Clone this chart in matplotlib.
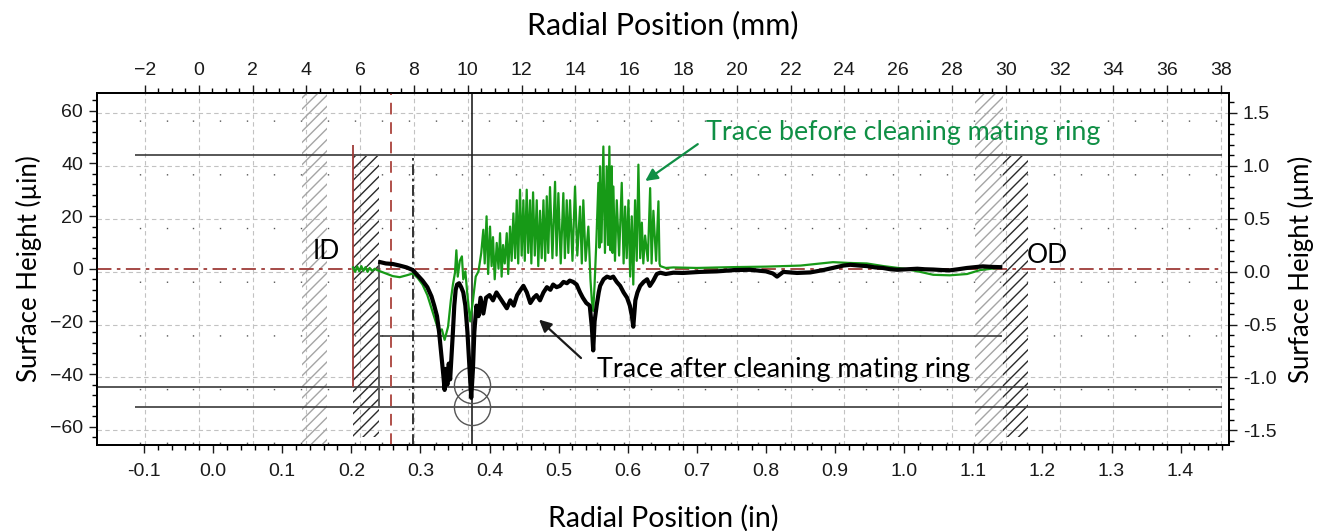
import numpy as np
import matplotlib.pyplot as plt
from matplotlib.ticker import FixedLocator, FormatStrFormatter

# surface traces (x in inches, height in micro-inches)
black_x = [0.242, 0.250, 0.260, 0.270, 0.280, 0.289, 0.296, 0.303, 0.310, 0.316,
           0.320, 0.324, 0.327, 0.330, 0.333, 0.335, 0.337, 0.339, 0.341, 0.343,
           0.345, 0.347, 0.349, 0.351, 0.353, 0.356, 0.359, 0.362, 0.365, 0.368,
           0.371, 0.3735, 0.376, 0.378, 0.381, 0.384, 0.387, 0.391, 0.395, 0.400,
           0.405, 0.410, 0.415, 0.420, 0.425, 0.430, 0.435, 0.440, 0.445, 0.449,
           0.454, 0.459, 0.464, 0.468, 0.473, 0.478, 0.483, 0.488, 0.492, 0.497,
           0.502, 0.507, 0.512, 0.516, 0.521, 0.526, 0.531, 0.535, 0.540, 0.545,
           0.548, 0.550, 0.552, 0.555, 0.558, 0.560, 0.565, 0.570, 0.575, 0.579,
           0.584, 0.589, 0.594, 0.599, 0.603, 0.606, 0.608, 0.611, 0.614, 0.618,
           0.623, 0.628, 0.632, 0.637, 0.642, 0.647, 0.655, 0.666, 0.680, 0.705,
           0.729, 0.755, 0.777, 0.800, 0.810, 0.816, 0.825, 0.845, 0.864, 0.883,
           0.900, 0.912, 0.922, 0.935, 0.946, 0.958, 0.969, 0.980, 0.990, 1.005,
           1.019, 1.030, 1.042, 1.055, 1.066, 1.078, 1.091, 1.103, 1.114, 1.126,
           1.139]
black_y = [2.5, 2.0, 1.8, 1.2, 0.5, -0.5, -2.5, -4.5, -7.0, -10.5,
           -14.0, -18.0, -24.0, -32.0, -40.0, -46.0, -38.0, -44.0, -36.0, -42.0,
           -33.0, -24.0, -14.0, -8.0, -6.0, -5.5, -7.0, -9.0, -14.0, -24.0,
           -38.0, -49.0, -38.0, -24.0, -14.0, -18.0, -11.0, -17.0, -11.0, -10.0,
           -12.0, -9.0, -11.0, -13.0, -15.0, -12.0, -14.0, -10.0, -8.0, -6.5,
           -9.0, -13.0, -11.0, -10.0, -12.0, -9.0, -7.0, -8.0, -6.0, -7.0,
           -6.5, -5.0, -5.5, -4.5, -5.0, -6.0, -9.0, -11.0, -13.0, -14.0,
           -22.0, -31.0, -20.0, -14.0, -9.0, -6.5, -4.0, -3.0, -3.5, -3.0,
           -5.0, -6.5, -9.0, -11.0, -14.0, -18.0, -22.0, -12.0, -9.0, -6.5,
           -5.0, -4.0, -6.5, -4.5, -2.0, -1.5, -2.0, -1.5, -1.6, -1.2,
           -1.0, -0.5, -0.4, -1.0, -1.8, -3.0, -1.2, -1.6, -1.4, -0.5,
           0.5, 1.2, 1.5, 1.2, 1.0, 0.5, 0.3, -0.2, -0.4, -0.2,
           0.0, -0.2, -0.3, -0.5, -0.6, -0.2, 0.3, 0.6, 0.9, 0.7,
           0.6]

green_x = [0.2025, 0.2055, 0.2085, 0.2115, 0.2145, 0.2175, 0.2205, 0.2235, 0.2265, 0.230,
           0.234, 0.238, 0.242, 0.250, 0.260, 0.270, 0.280, 0.289, 0.296, 0.303,
           0.310, 0.316, 0.322, 0.327, 0.331, 0.335, 0.340, 0.344, 0.347, 0.350,
           0.352, 0.354, 0.357, 0.360, 0.362, 0.365, 0.368, 0.372, 0.376, 0.380,
           0.384, 0.388, 0.391, 0.393, 0.3957, 0.398, 0.4007, 0.403, 0.405, 0.4075,
           0.4104, 0.413, 0.4152, 0.4175, 0.4196, 0.422, 0.4249, 0.427, 0.4297, 0.432,
           0.4345, 0.437, 0.4394, 0.4415, 0.4441, 0.4465, 0.449, 0.451, 0.4538, 0.456,
           0.4586, 0.4605, 0.463, 0.4655, 0.4683, 0.4705, 0.4731, 0.4755, 0.478, 0.4805,
           0.4828, 0.485, 0.4875, 0.491, 0.4948, 0.497, 0.4996, 0.503, 0.5068, 0.509,
           0.5117, 0.514, 0.5165, 0.520, 0.5237, 0.527, 0.531, 0.5335, 0.5357, 0.539,
           0.543, 0.546, 0.548, 0.550, 0.552, 0.5545, 0.5575, 0.559, 0.5599, 0.562,
           0.5647, 0.567, 0.5696, 0.5715, 0.5734, 0.575, 0.5769, 0.578, 0.5792, 0.5815,
           0.5841, 0.5875, 0.5913, 0.594, 0.5962, 0.5985, 0.601, 0.6035, 0.6058, 0.608,
           0.6106, 0.613, 0.6154, 0.618, 0.6204, 0.6225, 0.6251, 0.629, 0.6324, 0.6345,
           0.6371, 0.641, 0.6444, 0.646, 0.647, 0.655, 0.666, 0.700, 0.750, 0.800,
           0.850, 0.897, 0.920, 0.946, 0.970, 1.000, 1.020, 1.042, 1.066, 1.091,
           1.110, 1.139]
green_y = [0.5, -1.2, 0.9, -1.0, 1.0, -0.8, 0.6, -1.2, 0.3, -0.8,
           0.0, -0.6, -1.0, -1.8, -2.8, -3.2, -2.5, -1.8, -3.5, -6.0,
           -10.0, -15.0, -20.0, -24.0, -23.0, -27.0, -22.0, -12.0, -6.0, -1.5,
           7.0, -3.0, 3.0, 4.7, -4.0, -1.0, -10.0, -20.0, -12.0, -3.0,
           -1.0, 6.0, 14.8, 2.0, 19.9, -2.0, 16.0, 1.0, 12.0, -4.0,
           9.8, 0.0, 13.5, -3.0, 9.0, 2.0, 13.5, -2.0, 16.0, 3.0,
           21.0, 4.0, 26.0, 2.0, 30.0, 5.0, 26.0, 3.0, 30.0, 6.0,
           26.0, 2.0, 29.0, 5.0, 26.0, 1.0, 22.0, 4.0, 26.0, 3.0,
           27.5, 6.0, 31.0, 4.0, 33.0, 5.0, 28.7, 2.0, 28.7, 4.0,
           26.0, 6.0, 26.0, 3.0, 31.2, 5.0, 23.6, 2.0, 26.0, 3.0,
           16.0, -4.0, -12.0, -16.0, -6.0, 10.0, 32.6, 8.0, 38.9, 10.0,
           46.4, 6.0, 38.9, 9.0, 46.4, 7.0, 38.9, 6.0, 31.2, 3.0,
           26.0, 5.0, 32.6, 2.0, 23.6, 4.0, 26.0, -3.0, 19.9, -6.0,
           26.0, 3.0, 39.5, 4.0, 17.5, 2.0, 12.6, 3.0, 30.6, 2.0,
           22.0, 3.0, 25.6, 2.0, 1.0, 0.3, 0.5, 0.3, 0.6, 0.8,
           1.2, 2.5, 2.2, 2.0, 1.0, 0.0, -1.0, -2.3, -2.5, -2.0,
           -0.5, 0.4]

# instrument cursors and limits
hline_y = [43.3, -45.0, -52.6, -25.7]
hline_x0 = [-0.113, -0.168, -0.113, 0.2415]
hline_x1 = [1.46, 1.46, 1.46, 1.1417]
light_bands = [(0.128, 0.165), (1.1026, 1.1431)]
dark_bands = [(0.2025, 0.2405), (1.1431, 1.1793)]
dark_band_y = (-63.7, 42.6)
circle_x = [0.3747, 0.3747]
circle_y = [-44.0, -52.3]

in_ticks = [-0.1, 0.0, 0.1, 0.2, 0.3, 0.4, 0.5, 0.6, 0.7, 0.8, 0.9, 1.0, 1.1, 1.2, 1.3, 1.4]
mm_ticks = list(range(-2, 39, 2))
uin_ticks = [-60, -40, -20, 0, 20, 40, 60]
um_ticks = [-1.5, -1.0, -0.5, 0.0, 0.5, 1.0, 1.5]

GREEN = '#179A17'
TXT_GREEN = '#0F8F45'
DARKRED = '#9E3B38'
LABEL_FONT = 'Lato'
TICK_FONT = 'Liberation Sans'

fig = plt.figure(figsize=(13.34, 5.31), dpi=100)
rect = [97 / 1334, 86 / 531, 1132 / 1334, 352 / 531]

# sparse dotted lattice of the instrument screen
ax_dot = fig.add_axes(rect, frameon=False)
ax_dot.set_xlim(-3.784, 38.297)
ax_dot.set_ylim(0, 1)
ax_dot.set_xticks(np.arange(-2, 39) - 0.2)
ax_dot.set_yticks([])
ax_dot.tick_params(length=0, labelbottom=False)
ax_dot.grid(axis='x', color='#555555', lw=1.0, linestyle=(37.58, (1.0, 37.66)))
ax_dot.patch.set_visible(False)
ax_dot.set_zorder(0)

ax = fig.add_axes(rect)
ax_top = ax.twiny()
ax_r = ax.twinx()
ax.set_zorder(3)
ax.patch.set_visible(False)
ax_top.set_zorder(1)
ax_r.set_zorder(2)

ax.set_xlim(-0.168, 1.470)
ax.set_ylim(-66.9, 66.7)
ax_top.set_xlim(-3.784, 38.297)
ax_r.set_ylim(-1.638, 1.689)

ax.xaxis.set_major_locator(FixedLocator(in_ticks))
ax.xaxis.set_minor_locator(FixedLocator(np.arange(-0.1, 1.461, 0.02)))
ax.xaxis.set_major_formatter(FormatStrFormatter('%.1f'))
ax.yaxis.set_major_locator(FixedLocator(uin_ticks))
ax.yaxis.set_minor_locator(FixedLocator(np.arange(-64, 65, 4)))
ax_top.xaxis.set_major_locator(FixedLocator(mm_ticks))
ax_top.xaxis.set_minor_locator(FixedLocator(np.arange(-2, 38.01, 0.5)))
ax_r.yaxis.set_major_locator(FixedLocator(um_ticks))
ax_r.yaxis.set_minor_locator(FixedLocator(np.arange(-1.6, 1.61, 0.1)))
ax_r.yaxis.set_major_formatter(FormatStrFormatter('%.1f'))

for a in (ax, ax_top, ax_r):
    a.tick_params(which='major', direction='out', length=6, width=1.0,
                  labelsize=14, pad=4, colors='#1a1a1a')
    a.tick_params(which='minor', direction='out', length=3.5, width=1.0)
    for lab in a.get_xticklabels() + a.get_yticklabels():
        lab.set_family(TICK_FONT)
    for s in a.spines.values():
        s.set_linewidth(1.2)
ax.tick_params(axis='x', which='both', top=False)
ax.tick_params(axis='x', which='major', pad=7)
ax.tick_params(axis='y', which='both', right=False)

ax_top.grid(axis='x', which='major', color='#c2c2c2', lw=0.8, linestyle=(0, (4, 3)))
ax_r.grid(axis='y', which='major', color='#c2c2c2', lw=0.8, linestyle=(0, (4, 3)))

# hatched ID / OD regions
for x0, x1 in light_bands:
    ax.axvspan(x0, x1, facecolor='none', edgecolor='#a5a5a5', hatch='///', lw=0, zorder=1)
for x0, x1 in dark_bands:
    ax.fill_between([x0, x1], dark_band_y[0], dark_band_y[1], facecolor='none',
                    edgecolor='#2a2a2a', hatch='///', lw=0, zorder=1)

# cursors
ax.hlines(hline_y, hline_x0, hline_x1, color='#3a3a3a', lw=1.2, zorder=2)
ax.plot([-0.168, 1.46], [0, 0], color=DARKRED, lw=1.3, ls=(0, (8, 3, 2, 3)), zorder=2)
ax.vlines(dark_bands[0][0], -45.0, 47.1, color=DARKRED, lw=1.3, zorder=2)
ax.vlines(dark_bands[0][1], -52.6, 3.4, color='#555555', lw=1.3, zorder=2)
ax.axvline(0.2575, color='#B0504A', lw=1.4, ls=(0, (6, 4)), zorder=2)
ax.vlines(0.2897, -66.9, 42.2, color='#222222', lw=1.3, ls=(0, (6, 2, 1.5, 2)), zorder=2)
ax.axvline(circle_x[0], color='#222222', lw=1.2, zorder=2)
ax.plot(circle_x, circle_y, 'o', mfc='none', mec='#555555', mew=1.0, ms=26, zorder=2)

# traces
ax.plot(green_x, green_y, color=GREEN, lw=1.6, zorder=3)
ax.plot(black_x, black_y, color='black', lw=3.0, zorder=4)

# labels
ax.text(0.1643, 6.6, 'ID', family=LABEL_FONT, fontsize=19, ha='center', va='center')
ax.text(1.2068, 4.9, 'OD', family=LABEL_FONT, fontsize=19, ha='center', va='center')
ax.annotate('', xy=(0.6221, 32.7), xytext=(0.7046, 47.9),
            arrowprops=dict(arrowstyle='-|>', color=TXT_GREEN, lw=1.6, mutation_scale=18))
ax.text(0.7133, 51.6, 'Trace before cleaning mating ring', family=LABEL_FONT,
        fontsize=19.4, color=TXT_GREEN, ha='left', va='center')
ax.annotate('', xy=(0.4687, -18.6), xytext=(0.5353, -34.6),
            arrowprops=dict(arrowstyle='-|>', color='#1a1a1a', lw=1.6, mutation_scale=18))
ax.text(0.5556, -38.4, 'Trace after cleaning mating ring', family=LABEL_FONT,
        fontsize=19.4, color='black', ha='left', va='center')

ax.set_xlabel('Radial Position (in)', family=LABEL_FONT, fontsize=20.5, labelpad=18)
ax_top.set_xlabel('Radial Position (mm)', family=LABEL_FONT, fontsize=22, labelpad=20)
ax.set_ylabel('Surface Height (µin)', family=LABEL_FONT, fontsize=18.5, labelpad=6)
ax_r.set_ylabel('Surface Height (µm)', family=LABEL_FONT, fontsize=18.5, labelpad=8)

fig.savefig('out.png', dpi=100)
